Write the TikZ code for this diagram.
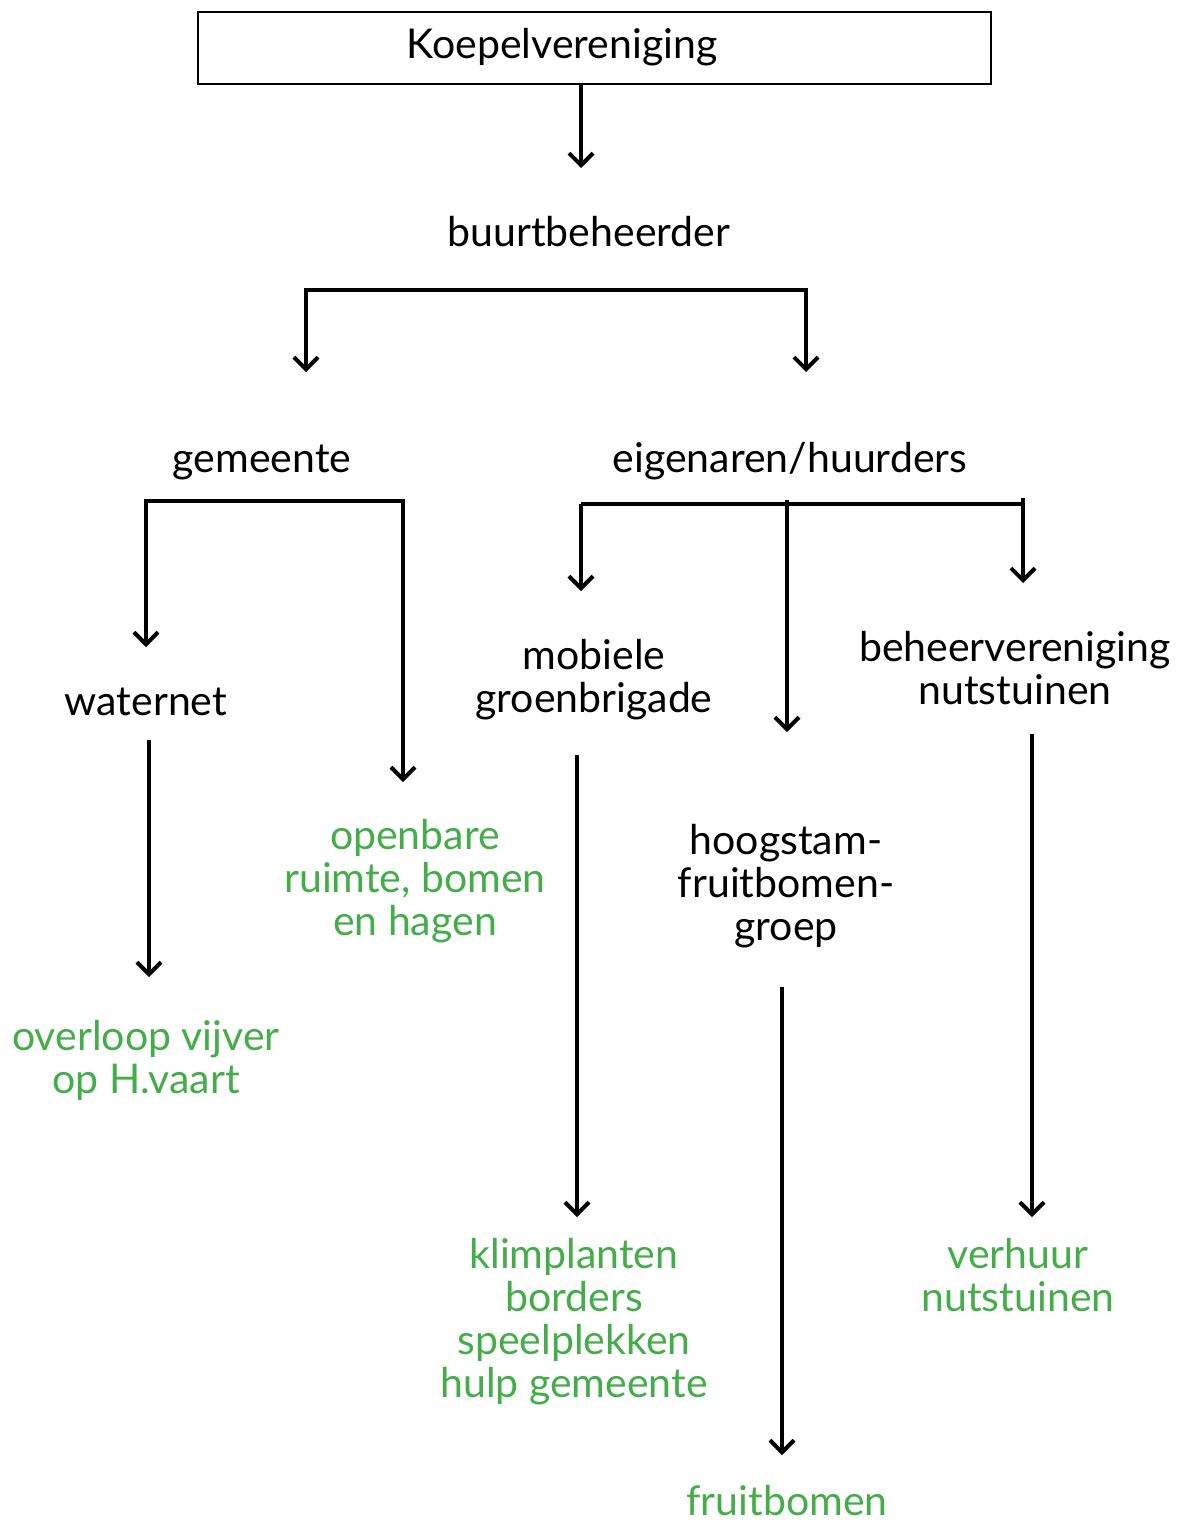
\documentclass[tikz,border=0pt]{standalone}
\usepackage{fontspec}
\setmainfont{Lato}
\usetikzlibrary{arrows.meta}
\definecolor{grn}{RGB}{68,173,74}
\begin{document}
\begin{tikzpicture}[x=1pt,y=-1pt,
 lbl/.style={font=\fontsize{41}{43}\selectfont, align=center, inner sep=0pt, anchor=base},
 glbl/.style={lbl, text=grn},
 conn/.style={line width=4pt, draw=black, line join=miter},
 arr/.style={conn, -{Straight Barb[length=12pt,width=24pt,line width=4pt]}},
]
\useasboundingbox (0,0) rectangle (1182,1524);
% top box
\node[draw, line width=1.6pt, minimum width=793pt, minimum height=72pt, inner sep=0pt] (box) at (594.5,48) {};
\node[lbl] (koep) at (562,58) {Koepelvereniging};
% black labels (base anchor = last line baseline)
\node[lbl] (buurt) at (589,246) {buurtbeheerder};
\node[lbl] (gem) at (262,472) {gemeente};
\node[lbl] (eig) at (790,472) {eigenaren/huurders};
\node[lbl] (water) at (146,715) {waternet};
\node[lbl] (mob) at (594,712) {mobiele\\groenbrigade};
\node[lbl] (beh) at (1015,704) {beheervereniging\\nutstuinen};
\node[lbl] (hoog) at (786,940) {hoogstam-\\fruitbomen-\\groep};
% green labels
\node[glbl] (open) at (415,935) {openbare\\ruimte, bomen\\en hagen};
\node[glbl] (over) at (146,1093) {overloop vijver\\op H.vaart};
\node[glbl] (klim) at (574,1397) {klimplanten\\borders\\speelplekken\\hulp gemeente};
\node[glbl] (verh) at (1018,1311) {verhuur\\nutstuinen};
\node[glbl] (fruit) at (787,1515) {fruitbomen};
% coordinates
\coordinate (b1) at (581,84);
\coordinate (b2) at (581,168);
\coordinate (s1) at (306,290);
\coordinate (s2) at (806,290);
\coordinate (s1e) at (306,372);
\coordinate (s2e) at (806,372);
\coordinate (g1) at (146,501);
\coordinate (g2) at (403,501);
\coordinate (g1e) at (146,647);
\coordinate (g2e) at (403,782);
\coordinate (e1) at (581,504);
\coordinate (e2) at (787,500);
\coordinate (e3) at (1023,498);
\coordinate (e1e) at (581,591);
\coordinate (e2e) at (787,732);
\coordinate (e3e) at (1023,583);
\coordinate (w1) at (149,740);
\coordinate (w2) at (149,977);
\coordinate (m1) at (577,755);
\coordinate (m2) at (577,1217);
\coordinate (h1) at (782,987);
\coordinate (h2) at (782,1455);
\coordinate (n1) at (1032,734);
\coordinate (n2) at (1032,1217);
% connectors
\draw[arr] (b1) -- (b2);
\draw[arr] (s1) -- (s2) -- (s2e);
\draw[arr] (s2) -- (s1) -- (s1e);
\draw[arr] (g2) -- (g1) -- (g1e);
\draw[arr] (g1) -- (g2) -- (g2e);
\draw[conn] (e1) -- (e3 |- e1);
\draw[arr] (e1) -- (e1e);
\draw[arr] (e2) -- (e2e);
\draw[arr] (e3) -- (e3e);
\draw[arr] (w1) -- (w2);
\draw[arr] (m1) -- (m2);
\draw[arr] (h1) -- (h2);
\draw[arr] (n1) -- (n2);
\end{tikzpicture}
\end{document}
